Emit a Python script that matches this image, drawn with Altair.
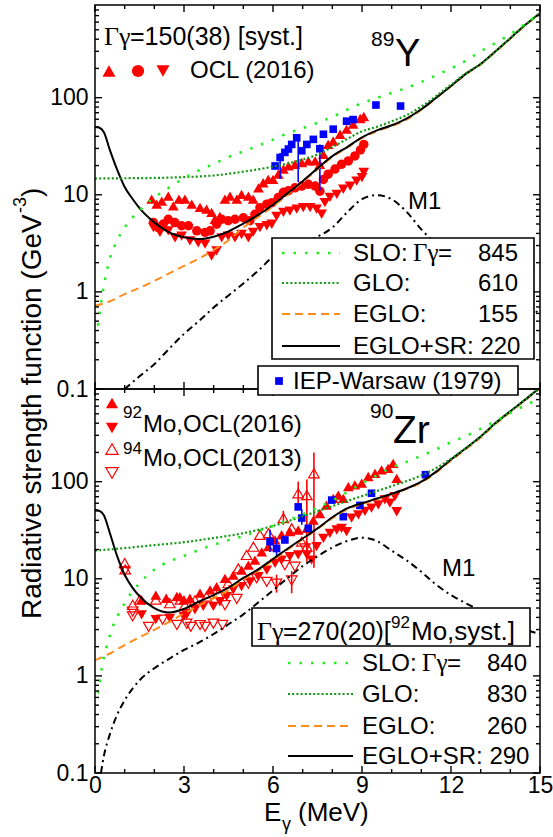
import altair as alt
import pandas as pd

# ======================= DATA =======================
# ---- 89Y panel: model curves (E in MeV, f in GeV^-3)
slo_Y_E = [0.1, 0.25, 0.5, 0.75, 1, 1.5, 2, 2.5, 3, 3.5, 4, 4.5, 5, 5.5, 6, 6.5, 7, 7.5, 8, 8.5, 9, 9.5, 10, 10.5, 11, 11.5, 12, 12.5, 13, 13.5, 14, 14.5, 15]
slo_Y_f = [0.45, 0.95, 2.2, 3.4, 4.6, 6.9, 9.4, 11.9, 14.8, 17.8, 20.8, 24.5, 28, 32, 37, 43, 48.5, 55, 63.5, 75, 88, 99, 112, 126, 145, 170, 200, 240, 300, 365, 450, 575, 740]
glo_Y_E = [0, 1, 2, 3, 4, 5, 6, 6.5, 7, 7.5, 8, 8.5, 9, 9.5, 10, 10.5, 11, 11.5, 12, 12.5, 13, 13.5, 14, 14.5, 15]
glo_Y_f = [14.7, 14.8, 14.9, 15.2, 15.8, 17.3, 19.5, 21, 23, 26, 31, 37.5, 45, 50, 57, 66, 81, 104, 136, 178, 222, 300, 410, 560, 740]
eglo_Y_E = [0, 0.5, 1, 1.5, 2, 2.5, 3, 3.5, 4, 4.5, 5, 5.5, 6, 6.5, 7, 7.5, 8, 8.5, 9, 9.5, 10, 10.5, 11, 11.5, 12, 12.5, 13, 13.5, 14, 14.5, 15]
eglo_Y_f = [0.72, 0.8, 0.95, 1.1, 1.3, 1.55, 1.85, 2.2, 2.7, 3.4, 4.6, 5.9, 7.6, 10.1, 13.5, 18.3, 24.5, 30.5, 38.5, 45, 51, 59.5, 75, 99, 131, 174, 220, 297, 405, 555, 735]
sr_Y_E = [0, 0.15, 0.3, 0.5, 0.75, 1, 1.25, 1.5, 2, 2.5, 3, 3.5, 4, 4.5, 5, 5.5, 6, 6.5, 7, 7.5, 8, 8.5, 9, 9.5, 10, 10.5, 11, 11.5, 12, 12.5, 13, 13.5, 14, 14.5, 15]
sr_Y_f = [50, 49, 44, 29, 18, 12, 9.2, 7.3, 5.2, 4.1, 3.65, 3.5, 3.7, 4.2, 5.06, 6.2, 7.9, 10.4, 13.8, 18.7, 25, 31, 39, 46, 52, 61, 76, 100, 132, 176, 222, 300, 410, 560, 740]
m1_Y_E = [1, 1.5, 2, 2.5, 3, 3.5, 4, 4.5, 5, 5.5, 6, 6.5, 7, 7.5, 8, 8.5, 9, 9.5, 10, 10.5, 11, 11.5, 12, 12.5, 13, 13.5, 14, 14.5, 15]
m1_Y_f = [0.1, 0.135, 0.18, 0.26, 0.37, 0.5, 0.69, 0.92, 1.22, 1.65, 2.3, 2.75, 3.2, 3.7, 4.6, 6.6, 9.0, 9.9, 9.0, 6.7, 4.4, 3.1, 2.3, 1.8, 1.4, 1.1, 0.9, 0.72, 0.6]

# ---- 89Y panel: OCL (2016) data, three normalisations
ocl_up_E = [1.91, 2.08, 2.25, 2.47, 2.64, 2.83, 3.03, 3.26, 3.54, 3.76, 3.93, 4.04, 4.21, 4.38, 4.55, 4.78, 4.94, 5.17, 5.33, 5.51, 5.67, 5.84, 6.0, 6.18, 6.35, 6.52, 6.74, 6.97, 7.19, 7.42, 7.58, 7.7, 7.86, 8.03, 8.26, 8.48, 8.7, 8.94, 9.06]
ocl_up_f = [9.0, 8.0, 8.6, 9.7, 7.7, 9.0, 9.0, 8.0, 7.4, 7.1, 6.6, 5.6, 6.0, 9.0, 9.7, 9.0, 10.1, 9.7, 9.0, 11.8, 13.3, 14.4, 14.4, 16.3, 18.4, 19.8, 20.6, 21.4, 22.3, 22.3, 20.6, 26.1, 33, 35.8, 42, 47.4, 53.4, 61, 64]
ocl_mid_E = [1.97, 2.13, 2.3, 2.47, 2.69, 2.92, 3.15, 3.43, 3.71, 3.88, 4.1, 4.27, 4.49, 4.72, 5.0, 5.22, 5.39, 5.56, 5.79, 5.96, 6.18, 6.35, 6.52, 6.74, 6.97, 7.19, 7.42, 7.58, 7.7, 7.86, 8.09, 8.31, 8.54, 8.76, 8.95, 9.06]
ocl_mid_f = [5.17, 4.6, 5.0, 5.6, 5.17, 4.8, 4.8, 4.25, 4.1, 4.25, 4.97, 5.6, 5.4, 5.6, 5.8, 5.4, 6.3, 7.36, 8.0, 8.3, 9.4, 10.6, 11.0, 11.8, 12.3, 12.8, 12.3, 10.9, 14.4, 16.3, 18.4, 20.6, 22.3, 25.1, 29, 33]
ocl_dn_E = [1.97, 2.19, 2.47, 2.7, 2.92, 3.2, 3.48, 3.71, 3.93, 4.1, 4.27, 4.49, 4.72, 4.94, 5.17, 5.33, 5.56, 5.79, 5.96, 6.12, 6.35, 6.57, 6.8, 7.02, 7.25, 7.47, 7.64, 7.75, 7.92, 8.15, 8.37, 8.6, 8.82, 9.0, 9.06]
ocl_dn_f = [4.6, 4.1, 4.25, 3.6, 3.75, 3.35, 3.2, 3.1, 2.34, 2.65, 3.6, 3.75, 3.6, 3.9, 3.6, 4.1, 4.6, 4.8, 4.97, 6.0, 6.6, 6.8, 7.1, 7.36, 7.36, 7.1, 6.3, 8.3, 9.4, 10.1, 11.4, 12.3, 13.8, 15, 17]
# IEP-Warsaw (1979), 89Y
iep_Y_E = [6.07, 6.24, 6.4, 6.52, 6.63, 6.8, 6.97, 7.14, 7.36, 7.58, 7.7, 8.03, 8.48, 8.7, 9.47, 10.3]
iep_Y_f = [19.8, 24.2, 27.3, 29.6, 33, 38.6, 28.4, 33, 37.2, 29.8, 42, 47.4, 57.3, 59.5, 84, 82]
iep_Y_errE = [6.24, 6.85, 7.58]
iep_Y_lo = [14.5, 13.5, 11]
iep_Y_hi = [27, 40, 33]

# ---- 90Zr panel: model curves
slo_Z_E = [0.1, 0.2, 0.5, 1, 1.5, 2, 2.5, 3, 3.5, 4, 4.5, 5, 5.5, 6, 6.5, 7, 7.5, 8, 8.5, 9, 9.5, 10, 10.5, 11, 11.5, 12, 12.5, 13, 13.5, 14, 14.5, 15]
slo_Z_f = [0.66, 1.07, 2.6, 5.6, 9, 12.4, 15.1, 17.2, 19.8, 22.4, 25, 27.5, 31, 35, 40, 46, 54, 64, 78, 96, 116, 140, 160, 185, 215, 255, 295, 350, 420, 510, 610, 720]
glo_Z_E = [0, 1, 2, 3, 4, 5, 6, 7, 8, 9, 10, 11, 11.5, 12, 12.5, 13, 13.5, 14, 14.5, 15]
glo_Z_f = [19.5, 20.7, 22.2, 23.8, 26.3, 29.5, 35, 44, 56, 71, 90, 116, 138, 172, 222, 292, 401, 530, 700, 930]
eglo_Z_E = [0, 0.5, 1, 1.5, 2, 2.5, 3, 3.5, 4, 4.5, 5, 5.5, 6, 6.5, 7, 7.5, 8, 8.5, 9, 9.5, 10, 10.5, 11, 11.5, 12, 12.5, 13, 13.5, 14, 14.5, 15]
eglo_Z_f = [1.45, 1.7, 2.08, 2.5, 2.98, 3.6, 4.4, 5.3, 6.3, 7.6, 9.8, 12.1, 15.5, 20, 25.5, 32.5, 42, 52, 59, 66, 74, 84, 98, 124, 165, 216, 285, 392, 518, 690, 910]
sr_Z_E = [0, 0.15, 0.3, 0.5, 0.75, 1, 1.25, 1.5, 2, 2.5, 3, 3.5, 4, 4.5, 5, 5.5, 6, 6.5, 7, 7.5, 8, 8.5, 9, 9.5, 10, 10.5, 11, 11.5, 12, 12.5, 13, 13.5, 14, 14.5, 15]
sr_Z_f = [51, 50, 45, 29.6, 17, 11, 8.2, 6.6, 5.0, 4.5, 4.9, 5.8, 6.8, 8.1, 10.2, 12.5, 16, 20.5, 26, 33, 43, 53, 60, 67, 75, 85, 100, 127, 169, 221, 292, 401, 530, 700, 930]
m1_Z_E = [0.2, 0.3, 0.5, 0.75, 1, 1.5, 2, 2.5, 3, 3.5, 4, 4.5, 5, 5.5, 6, 6.5, 7, 7.5, 8, 8.5, 9, 9.5, 10, 10.5, 11, 11.5, 12, 12.5, 13, 13.5, 14, 14.5, 15]
m1_Z_f = [0.1, 0.15, 0.25, 0.4, 0.56, 0.9, 1.2, 1.5, 1.85, 2.2, 2.7, 3.4, 4.3, 5.7, 7.6, 10.2, 13.5, 17, 21, 24.5, 26.5, 24.5, 19.5, 15.5, 11.8, 8.7, 6.8, 5.6, 4.7, 4.0, 3.4, 3.0, 2.7]

# ---- 90Zr panel: data
mo92_up_E = [1.57, 2.05, 2.4, 2.76, 2.86, 3.0, 3.2, 3.54, 3.88, 4.1, 4.38, 4.66, 4.94, 5.17, 5.39, 5.62, 5.84, 6.07, 6.29, 6.57, 6.85, 7.14, 7.36, 7.58, 7.8, 8.03, 8.2, 8.37, 8.54, 8.76, 8.99, 9.21, 9.44, 9.66, 9.88, 10.05, 10.17]
mo92_up_f = [6.1, 6.8, 6.3, 6.6, 6.55, 6.1, 6.3, 7.1, 7.7, 8.3, 10.1, 10.9, 12.3, 13.8, 15.6, 18.9, 21.4, 25.1, 28.4, 30.6, 31.8, 33.1, 40.1, 47.0, 57.3, 67.3, 72.8, 67.3, 88.8, 92.5, 96.5, 113, 122, 132, 137, 154, 108]
mo92_dn_E = [1.57, 2.05, 2.52, 2.99, 3.09, 3.37, 3.65, 3.99, 4.21, 4.44, 4.66, 4.94, 5.22, 5.5, 5.79, 6.07, 6.29, 6.57, 6.85, 7.14, 7.3, 7.47, 7.7, 7.92, 8.15, 8.31, 8.48, 8.65, 8.88, 9.1, 9.32, 9.55, 9.77, 9.94, 10.11, 10.17]
mo92_dn_f = [4.25, 3.8, 3.9, 4.1, 4.24, 4.8, 5.2, 5.2, 5.8, 6.55, 7.7, 8.3, 9.3, 10.5, 12.3, 14.4, 15.6, 16.9, 17.6, 17.6, 15.6, 21.4, 26.1, 29.4, 31.8, 33, 30.6, 42.2, 45.6, 49.4, 53.4, 57.6, 65, 60, 70, 49]
mo94_up_E = [1.0, 1.02, 1.27, 1.51, 2.05, 2.52, 2.88, 3.03, 3.37, 3.76, 4.16, 4.49, 4.83, 5.11, 5.34, 5.56, 5.85, 6.35, 6.63, 6.85, 6.97, 7.14, 7.14, 7.38]
mo94_up_f = [14.5, 12.5, 5.4, 6.1, 6.1, 5.6, 6.1, 5.35, 6.0, 6.55, 7.1, 9.0, 12.8, 17.6, 21.4, 28.4, 29.5, 42.2, 33.1, 76, 24.1, 72.8, 21.4, 122]
mo94_dn_E = [1.0, 1.27, 1.27, 1.81, 2.28, 2.76, 3.09, 3.23, 3.54, 3.71, 3.99, 4.3, 4.38, 4.78, 5.17, 5.45, 5.79, 6.12, 6.4, 6.63, 6.74, 7.08]
mo94_dn_f = [12.0, 4.1, 4.6, 3.2, 3.8, 3.35, 3.45, 3.2, 3.34, 3.2, 3.45, 3.35, 5.35, 6.2, 8.9, 10.1, 9.3, 8.9, 13.8, 9.6, 13.3, 20.5]
mo94_errE = [6.12, 6.35, 6.63, 6.85, 7.14, 7.38]
mo94_lo = [7.2, 36, 7.1, 55, 15, 13]
mo94_hi = [11, 50, 12, 100, 105, 200]
iep_Z_E = [5.9, 6.12, 6.4, 6.85, 6.97, 7.19, 7.98, 8.37, 8.93, 9.32, 11.14]
iep_Z_f = [24.1, 20.5, 25.1, 55, 42.2, 33.1, 64.6, 43.6, 57, 75.9, 118]
iep_Z_errE = [5.9, 6.12, 6.97]
iep_Z_lo = [18.9, 16.5, 36]
iep_Z_hi = [32, 26, 52]

# ---- axis ticks / labels
x_major = [0, 3, 6, 9, 12, 15]
x_minor = [1, 2, 4, 5, 7, 8, 10, 11, 13, 14]
y_major = [0.1, 1, 10, 100]
y_minor = [0.2, 0.3, 0.4, 0.5, 0.6, 0.7, 0.8, 0.9, 2, 3, 4, 5, 6, 7, 8, 9,
           20, 30, 40, 50, 60, 70, 80, 90, 200, 300, 400, 500, 600, 700, 800]

# ======================= STYLE / HELPERS =======================
SANS = "Liberation Sans"
SERIF = "Liberation Serif"
W, H = 445, 384
RED, BLUE = "#ff0000", "#0000ff"
LGREEN, DGREEN, ORANGE = "#22ee22", "#129a12", "#ff8c1a"
FS = 24

xs = alt.Scale(domain=[0, 15], nice=False, zero=False)
ys = alt.Scale(type="log", domain=[0.1, 900], nice=False)
ONE = pd.DataFrame({"k": [0]})

SLO_DASH = [2.5, 9]
GLO_DASH = [2, 2.2]
EGLO_DASH = [8, 5]
M1_DASH = [7, 4, 2, 4]
TRI = 115

YAXIS = alt.Axis(values=y_major, format="~g", ticks=False, domain=False, grid=False,
                 labelFont=SANS, labelFontSize=23, labelColor="black",
                 labelPadding=7, labelOverlap=False, title=None)
XAXIS_BOTTOM = alt.Axis(values=x_major, format="d", ticks=False, domain=False, grid=False,
                        labelFont=SANS, labelFontSize=23, labelColor="black",
                        labelPadding=1, labelFlush=False, labelOverlap=False, title=None)

# the axis used for x in the panel currently being built (None = no x labels)
CUR = {"x": None}


def XE():
    return alt.X("E:Q", scale=xs, axis=CUR["x"])


def Yf(field="f"):
    return alt.Y(f"{field}:Q", scale=ys, axis=YAXIS)


def line(E, f, color, dash=None, width=2.0):
    kw = dict(color=color, strokeWidth=width, clip=True, interpolate="monotone")
    if dash:
        kw["strokeDash"] = dash
    return alt.Chart(pd.DataFrame({"E": E, "f": f})).mark_line(**kw).encode(x=XE(), y=Yf())


def pts(E, f, shape, size, filled=True, color=RED, sw=1.2):
    return alt.Chart(pd.DataFrame({"E": E, "f": f})).mark_point(
        shape=shape, size=size, filled=filled, color=color, opacity=1,
        strokeWidth=sw, clip=True).encode(x=XE(), y=Yf())


def ebars(E, lo, hi, color, width=1.6):
    return alt.Chart(pd.DataFrame({"E": E, "lo": lo, "hi": hi})).mark_rule(
        color=color, strokeWidth=width, clip=True).encode(
        x=XE(), y=Yf("lo"), y2="hi:Q")


def txt(x, y, s, size=FS, font=SANS, align="left", angle=None, baseline="alphabetic"):
    kw = dict(align=align, baseline=baseline, font=font, fontSize=size, color="black")
    if angle is not None:
        kw["angle"] = angle
    return alt.Chart(ONE).mark_text(**kw).encode(
        x=alt.value(x), y=alt.value(y), text=alt.value(s))


def box(x1, y1, x2, y2, fill="white", sw=1.6, fo=1):
    return alt.Chart(ONE).mark_rect(fill=fill, fillOpacity=fo, stroke="black", strokeWidth=sw).encode(
        x=alt.value(x1), x2=alt.value(x2), y=alt.value(y1), y2=alt.value(y2))


def lseg(x1, x2, y, color, dash=None, width=2.0):
    kw = dict(color=color, strokeWidth=width)
    if dash:
        kw["strokeDash"] = dash
    return alt.Chart(ONE).mark_rule(**kw).encode(
        x=alt.value(x1), x2=alt.value(x2), y=alt.value(y))


def sym(x, y, shape, size, filled=True, color=RED, sw=1.2):
    return alt.Chart(ONE).mark_point(shape=shape, size=size, filled=filled, color=color,
                                     opacity=1, strokeWidth=sw).encode(
        x=alt.value(x), y=alt.value(y))


def ticks():
    layers = []
    for vals, L in [(x_major, 7), (x_minor, 4)]:
        d = pd.DataFrame({"E": vals})
        layers.append(alt.Chart(d).mark_rule(color="black", strokeWidth=1.4).encode(
            x=XE(), y=alt.value(H), y2=alt.value(H - L)))
        layers.append(alt.Chart(d).mark_rule(color="black", strokeWidth=1.4).encode(
            x=XE(), y=alt.value(0), y2=alt.value(L)))
    for vals, L in [(y_major, 7), (y_minor, 4)]:
        d = pd.DataFrame({"f": vals})
        layers.append(alt.Chart(d).mark_rule(color="black", strokeWidth=1.4).encode(
            y=Yf("f"), x=alt.value(0), x2=alt.value(L)))
        layers.append(alt.Chart(d).mark_rule(color="black", strokeWidth=1.4).encode(
            y=Yf("f"), x=alt.value(W), x2=alt.value(W - L)))
    return layers


# ======================= TOP PANEL (89Y) =======================
CUR["x"] = None
top_layers = [
    pts(ocl_up_E, ocl_up_f, "triangle-up", TRI),
    pts(ocl_mid_E, ocl_mid_f, "circle", 90),
    pts(ocl_dn_E, ocl_dn_f, "triangle-down", TRI),
    ebars(iep_Y_errE, iep_Y_lo, iep_Y_hi, BLUE),
    pts(iep_Y_E, iep_Y_f, "square", 58, color=BLUE),
    line(eglo_Y_E, eglo_Y_f, ORANGE, EGLO_DASH),
    line(sr_Y_E, sr_Y_f, "black"),
    line(m1_Y_E, m1_Y_f, "black", M1_DASH),
    line(glo_Y_E, glo_Y_f, DGREEN, GLO_DASH, 2.2),
    line(slo_Y_E, slo_Y_f, LGREEN, SLO_DASH, 2.6),
] + ticks() + [
    box(0, 0, W, H, fo=0, sw=1.5),
    # legend box
    box(177, 233, 439, 354),
    lseg(187, 245, 248, LGREEN, SLO_DASH, 2.6),
    lseg(187, 245, 278, DGREEN, GLO_DASH, 2.2),
    lseg(187, 245, 309, ORANGE, EGLO_DASH),
    lseg(187, 245, 341, "black"),
    txt(258, 256, "SLO:"), txt(318, 256, "Γγ", font=SERIF, size=25), txt(343, 256, "="),
    txt(423, 256, "845", align="right"),
    txt(258, 286, "GLO:"), txt(423, 286, "610", align="right"),
    txt(258, 317, "EGLO:"), txt(423, 317, "155", align="right"),
    txt(258, 349, "EGLO+SR: 220"),
    # headline texts
    txt(9, 40, "Γγ", font=SERIF, size=26), txt(35, 40, "=150(38) [syst.]", size=25),
    sym(14, 66, "triangle-up", 170), sym(43, 66, "circle", 150), sym(68, 66, "triangle-down", 170),
    txt(95, 73, "OCL (2016)"),
    txt(276, 41, "89", size=21), txt(300, 61, "Y", size=38),
    txt(313, 204, "M1"),
    # y-axis title (spans both panels)
    txt(-62, 614, "Radiative strength function (GeV", size=28, angle=270, baseline="middle"),
    txt(-74, 208, "-3", size=18, angle=270, baseline="middle"),
    txt(-62, 192, ")", size=28, angle=270, baseline="middle"),
]
top = alt.layer(*top_layers).properties(width=W, height=H)

# ======================= BOTTOM PANEL (90Zr) =======================
CUR["x"] = XAXIS_BOTTOM
bot_layers = [
    ebars(mo94_errE, mo94_lo, mo94_hi, RED),
    pts(mo94_up_E, mo94_up_f, "triangle-up", 110, filled=False),
    pts(mo94_dn_E, mo94_dn_f, "triangle-down", 110, filled=False),
    pts(mo92_up_E, mo92_up_f, "triangle-up", TRI),
    pts(mo92_dn_E, mo92_dn_f, "triangle-down", TRI),
    ebars(iep_Z_errE, iep_Z_lo, iep_Z_hi, BLUE),
    pts(iep_Z_E, iep_Z_f, "square", 58, color=BLUE),
    line(eglo_Z_E, eglo_Z_f, ORANGE, EGLO_DASH),
    line(sr_Z_E, sr_Z_f, "black"),
    line(m1_Z_E, m1_Z_f, "black", M1_DASH),
    line(glo_Z_E, glo_Z_f, DGREEN, GLO_DASH, 2.2),
    line(slo_Z_E, slo_Z_f, LGREEN, SLO_DASH, 2.6),
] + ticks() + [
    box(0, 0, W, H, fo=0, sw=1.5),
    # IEP legend box (straddles the two panels)
    box(163, -23, 423, 6),
    sym(184, -8, "square", 60, color=BLUE),
    txt(198, 0, "IEP-Warsaw (1979)"),
    # data legend
    sym(17, 14, "triangle-up", 150), sym(17, 39, "triangle-down", 150),
    sym(17, 60, "triangle-up", 150, filled=False), sym(17, 84, "triangle-down", 150, filled=False),
    txt(28, 29, "92", size=17), txt(48, 43, "Mo,OCL(2016)"),
    txt(28, 65, "94", size=17), txt(48, 77, "Mo,OCL(2013)"),
    txt(275, 29, "90", size=21), txt(298, 54, "Zr", size=39),
    txt(347, 187, "M1"),
    # Gamma box + model legend
    box(157, 219, 435, 257),
    txt(162, 251, "Γγ", font=SERIF, size=26), txt(188, 251, "=270(20)[", size=25),
    txt(296, 239, "92", size=17), txt(316, 251, "Mo,syst.]", size=26),
    lseg(193, 258, 274, LGREEN, SLO_DASH, 2.6),
    lseg(193, 258, 305, DGREEN, GLO_DASH, 2.2),
    lseg(193, 258, 337, ORANGE, EGLO_DASH),
    lseg(193, 258, 367, "black"),
    txt(267, 282, "SLO:"), txt(327, 282, "Γγ", font=SERIF, size=25), txt(352, 282, "="),
    txt(432, 282, "840", align="right"),
    txt(267, 313, "GLO:"), txt(432, 313, "830", align="right"),
    txt(267, 345, "EGLO:"), txt(432, 345, "260", align="right"),
    txt(267, 375, "EGLO+SR: 290"),
    # x-axis title
    txt(169, 432, "E", size=26), txt(187, 441, "γ", size=18), txt(203, 432, "(MeV)", size=26),
]
bottom = alt.layer(*bot_layers).properties(width=W, height=H)

chart = alt.vconcat(top, bottom, spacing=0, bounds="flush").properties(
    padding={"left": 12, "top": 4, "right": 0, "bottom": 0},
    background="white",
).configure_view(stroke=None)

chart.save("out.html", embed_options={"renderer": "svg", "actions": False})
